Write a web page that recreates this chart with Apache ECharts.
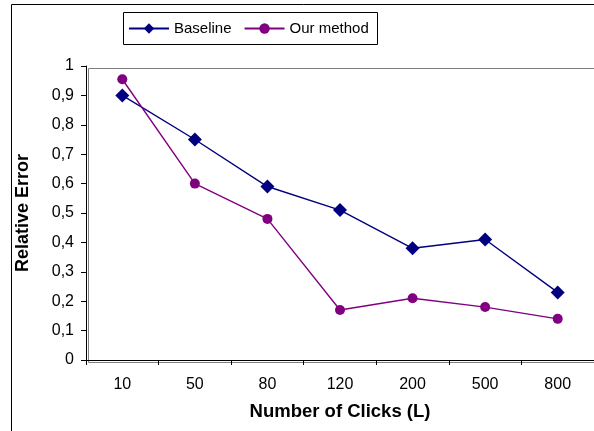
<!DOCTYPE html>
<html>
<head>
<meta charset="utf-8">
<script src="https://cdn.jsdelivr.net/npm/echarts@6/dist/echarts.min.js"></script>
<style>
html,body{margin:0;padding:0;background:#fff;}
#c{width:594px;height:431px;}
</style>
</head>
<body>
<div id="c"></div>
<script>
var categories = ['10', '50', '80', '120', '200', '500', '800'];
var baseline = [0.90, 0.75, 0.59, 0.51, 0.38, 0.41, 0.23];
var ourMethod = [0.955, 0.60, 0.48, 0.17, 0.21, 0.18, 0.14];
var yTicks = [0, 0.1, 0.2, 0.3, 0.4, 0.5, 0.6, 0.7, 0.8, 0.9, 1];

var font = '"Liberation Sans", Arial, sans-serif';
var chart = echarts.init(document.getElementById('c'), null, {renderer: 'canvas'});
chart.setOption({
  animation: false,
  backgroundColor: '#fff',
  textStyle: {fontFamily: font},
  graphic: [
    {type: 'rect', left: 9, top: 2, z: 0,
     shape: {x: 0, y: 0, width: 600, height: 428},
     style: {fill: 'none', stroke: '#000', lineWidth: 1}},
    {type: 'rect', left: 123, top: 12, z: 0,
     shape: {x: 0, y: 0, width: 254, height: 32},
     style: {fill: '#fff', stroke: '#000', lineWidth: 1}},
    {type: 'rect', left: 86, top: 66, z: 0,
     shape: {x: 0, y: 0, width: 518, height: 294},
     style: {fill: 'none', stroke: '#808080', lineWidth: 1}}
  ],
  legend: {
    left: 123, top: 16,
    padding: 5,
    itemGap: 12,
    itemWidth: 40, itemHeight: 13,
    textStyle: {fontFamily: font, fontSize: 15, color: '#000'},
    data: ['Baseline', 'Our method']
  },
  grid: {left: 86, top: 66, width: 518, height: 294, containLabel: false},
  xAxis: {
    type: 'category',
    data: categories,
    boundaryGap: true,
    name: 'Number of Clicks (L)',
    nameLocation: 'middle',
    nameGap: 42,
    nameTextStyle: {fontFamily: font, fontSize: 18.5, fontWeight: 'bold', color: '#000'},
    axisLine: {lineStyle: {color: '#000', width: 1}},
    axisTick: {show: true, inside: false, length: 5, alignWithLabel: false, lineStyle: {color: '#000'}},
    axisLabel: {fontFamily: font, fontSize: 16, color: '#000', margin: 17},
    splitLine: {show: false}
  },
  yAxis: {
    type: 'value',
    min: 0, max: 1, interval: 0.1,
    name: 'Relative Error',
    nameLocation: 'middle',
    nameRotate: 90,
    nameGap: 54,
    nameTextStyle: {fontFamily: font, fontSize: 18, fontWeight: 'bold', color: '#000'},
    axisLine: {show: true, lineStyle: {color: '#000', width: 1}},
    axisTick: {show: true, inside: false, length: 5, lineStyle: {color: '#000'}},
    axisLabel: {
      fontFamily: font, fontSize: 16, color: '#000', margin: 12,
      formatter: function (v) {
        var r = Math.round(v * 10) / 10;
        if (yTicks.indexOf(r) < 0) return '';
        return String(r).replace('.', ',');
      }
    },
    splitLine: {show: false}
  },
  series: [
    {
      name: 'Baseline', type: 'line', data: baseline,
      symbol: 'diamond', symbolSize: 14,
      itemStyle: {color: '#000080'},
      lineStyle: {color: '#000080', width: 1.4}
    },
    {
      name: 'Our method', type: 'line', data: ourMethod,
      symbol: 'circle', symbolSize: 10,
      itemStyle: {color: '#800080'},
      lineStyle: {color: '#800080', width: 1.4}
    }
  ]
});
</script>
</body>
</html>
